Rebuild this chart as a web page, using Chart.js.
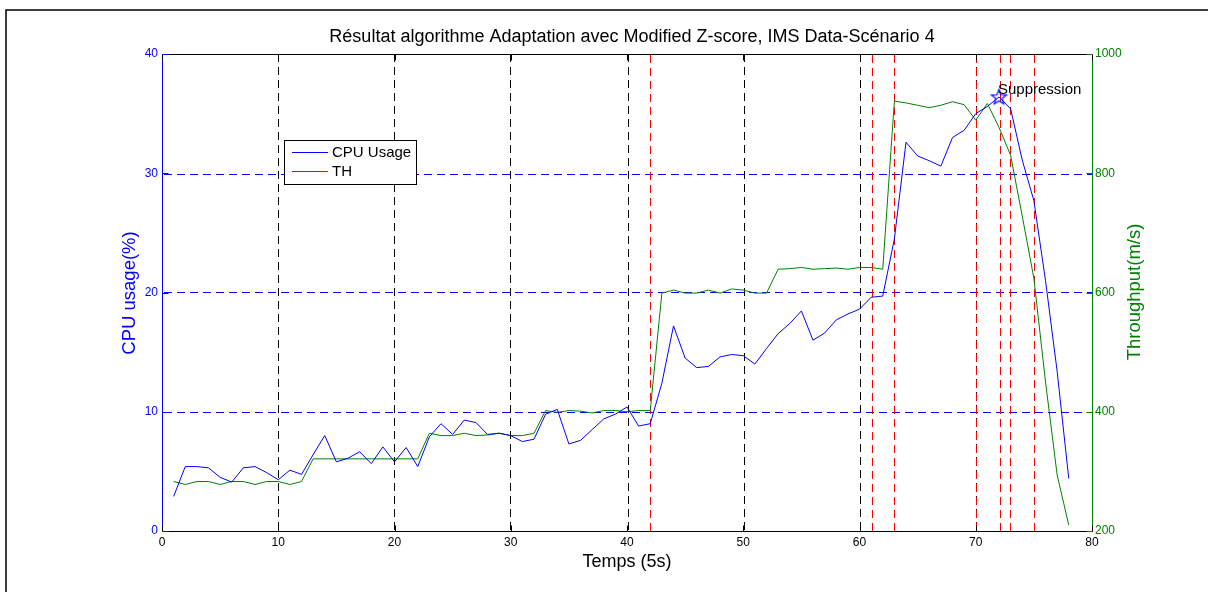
<!DOCTYPE html>
<html lang="fr">
<head>
<meta charset="UTF-8">
<title>Résultat algorithme Adaptation</title>
<script src="https://cdn.jsdelivr.net/npm/chart.js"></script>
<style>
  body { margin: 0; background: #fff; }
  #wrap { width: 1208px; height: 592px; }
</style>
</head>
<body>
<div id="wrap"><canvas id="myChart" width="1208" height="592"></canvas></div>
<script>
// --- data ---
const temps = [];
for (let i = 1; i <= 78; i++) temps.push(i);

const cpuUsage = [
  2.9, 5.4, 5.4, 5.3, 4.5, 4.1, 5.3, 5.4, 4.9, 4.3,
  5.1, 4.75, 6.4, 8.0, 5.8, 6.1, 6.65, 5.65, 7.05, 5.8,
  7.0, 5.4, 7.9, 9.0, 8.1, 9.3, 9.1, 8.1, 8.2, 8.0,
  7.5, 7.7, 9.8, 10.2, 7.3, 7.6, 8.5, 9.4, 9.8, 10.4,
  8.8, 9.0, 12.4, 17.2, 14.5, 13.7, 13.8, 14.6, 14.8, 14.7,
  14.0, 15.3, 16.55, 17.4, 18.45, 16.0, 16.6, 17.7, 18.2, 18.6,
  19.6, 19.7, 24.5, 32.6, 31.45, 31.05, 30.6, 33.0, 33.6, 35.0,
  35.6, 36.4, 35.4, 31.1, 27.7, 21.0, 13.4, 4.4
];

const throughput = [
  283, 278, 283, 283, 278, 283, 283, 278, 283, 283,
  278, 283, 321, 321, 321, 321, 321, 321, 321, 321,
  321, 321, 364, 360, 360, 364, 360, 361, 364, 360,
  360, 364, 402, 399, 402, 401, 398, 402, 402, 400,
  402, 402, 599, 604, 599, 599, 604, 599, 606, 604,
  599, 599, 639, 640, 642, 639, 640, 641, 639, 642,
  642, 639, 921, 918, 914, 910, 914, 920, 915, 889,
  917, 877, 830, 728, 624, 450, 294, 210
];

const suppressionAt = 72;
const seuilLines = [42, 61, 63, 70, 72, 73, 75];   // red dashed markers
const xTicks = [0, 10, 20, 30, 40, 50, 60, 70, 80];
const cpuTicks = [0, 10, 20, 30, 40];
const thTicks = [200, 400, 600, 800, 1000];

const titleText = 'Résultat algorithme Adaptation avec Modified Z-score, IMS Data-Scénario 4';
const FONT = '"Liberation Sans", Arial, Helvetica, sans-serif';
const BLUE = '#0000ff';
const GREEN = '#008000';

const cpuPoints = temps.map((t, i) => ({ x: t, y: cpuUsage[i] }));
const thPoints = temps.map((t, i) => ({ x: t, y: throughput[i] }));
const starPoint = [{ x: suppressionAt, y: cpuUsage[temps.indexOf(suppressionAt)] }];

// five-pointed star outline, like matlab's 'p' marker
const star = document.createElement('canvas');
star.width = 19; star.height = 19;
(function () {
  const c = star.getContext('2d');
  c.strokeStyle = BLUE;
  c.lineWidth = 1.2;
  c.beginPath();
  for (let k = 0; k < 10; k++) {
    const r = k % 2 === 0 ? 8 : 3.4;
    const ang = -Math.PI / 2 + k * Math.PI / 5;
    const px = 9.5 + r * Math.cos(ang), py = 10 + r * Math.sin(ang);
    if (k === 0) c.moveTo(px, py); else c.lineTo(px, py);
  }
  c.closePath();
  c.stroke();
})();

// snap to even pixel so thin coloured dashes keep their colour
const even = v => 2 * Math.round(v / 2);

function vDash(ctx, x, y1, y2, color) {
  ctx.fillStyle = color;
  const xi = even(x);
  for (let y = y1; y < y2; y += 13) ctx.fillRect(xi, y, 1, Math.min(8, y2 - y));
}
function hDash(ctx, y, x1, x2, color) {
  ctx.fillStyle = color;
  const yi = even(y);
  for (let x = x1 + 2; x < x2; x += 13) ctx.fillRect(x, yi, Math.min(8, x2 - x), 1);
}

const matlabLook = {
  id: 'matlabLook',
  beforeDatasetsDraw(chart) {
    const { ctx, chartArea: a, scales } = chart;
    ctx.save();
    xTicks.forEach(v => {
      if (v === 0 || v === 80) return;
      vDash(ctx, scales.x.getPixelForValue(v), a.top, a.bottom, '#000');
    });
    cpuTicks.forEach(v => {
      if (v === 0 || v === 40) return;
      hDash(ctx, scales.y.getPixelForValue(v), a.left, a.right, BLUE);
    });
    seuilLines.forEach(v => {
      vDash(ctx, scales.x.getPixelForValue(v), a.top + 1, a.bottom, '#ff0000');
    });
    ctx.restore();
  },
  afterDraw(chart) {
    const { ctx, chartArea: a, scales } = chart;
    ctx.save();
    // outer figure frame
    ctx.strokeStyle = '#000';
    ctx.lineWidth = 1.5;
    ctx.strokeRect(6, 10, 1400, 800);

    // axes box
    ctx.lineWidth = 1;
    const L = Math.round(a.left) + 0.5, R = Math.round(a.right) + 0.5;
    const T = Math.round(a.top) + 0.5, B = Math.round(a.bottom) + 0.5;
    ctx.strokeStyle = '#000';
    ctx.beginPath(); ctx.moveTo(L, T); ctx.lineTo(R, T); ctx.moveTo(L, B); ctx.lineTo(R, B); ctx.stroke();
    ctx.strokeStyle = BLUE;
    ctx.beginPath(); ctx.moveTo(L, T); ctx.lineTo(L, B); ctx.stroke();
    ctx.strokeStyle = GREEN;
    ctx.beginPath(); ctx.moveTo(R, T); ctx.lineTo(R, B); ctx.stroke();

    // inward tick marks
    ctx.strokeStyle = '#000';
    xTicks.forEach(v => {
      const x = Math.round(scales.x.getPixelForValue(v)) + 0.5;
      ctx.beginPath(); ctx.moveTo(x, B); ctx.lineTo(x, B - 6); ctx.moveTo(x, T); ctx.lineTo(x, T + 6); ctx.stroke();
    });
    ctx.strokeStyle = BLUE;
    cpuTicks.forEach(v => {
      const y = Math.round(scales.y.getPixelForValue(v)) + 0.5;
      ctx.beginPath(); ctx.moveTo(L, y); ctx.lineTo(L + 6, y); ctx.stroke();
    });
    ctx.strokeStyle = GREEN;
    thTicks.forEach(v => {
      const y = Math.round(scales.y1.getPixelForValue(v)) + 0.5;
      ctx.beginPath(); ctx.moveTo(R, y); ctx.lineTo(R - 6, y); ctx.stroke();
    });

    // title and axis labels
    ctx.fillStyle = '#000';
    ctx.font = '18px ' + FONT;
    ctx.textAlign = 'center';
    ctx.textBaseline = 'middle';
    ctx.fillText(titleText, 632, 37);

    ctx.font = '18px ' + FONT;
    ctx.fillText('Temps (5s)', 627, 562);

    ctx.save();
    ctx.translate(130, 293);
    ctx.rotate(-Math.PI / 2);
    ctx.fillStyle = BLUE;
    ctx.font = '18.5px ' + FONT;
    ctx.fillText('CPU usage(%)', 0, 0);
    ctx.restore();

    ctx.save();
    ctx.translate(1135, 292);
    ctx.rotate(-Math.PI / 2);
    ctx.fillStyle = GREEN;
    ctx.font = '18.5px ' + FONT;
    ctx.fillText('Throughput(m/s)', 0, 0);
    ctx.restore();

    // suppression label
    const sx = scales.x.getPixelForValue(suppressionAt);
    const sy = scales.y.getPixelForValue(starPoint[0].y);
    ctx.fillStyle = '#000';
    ctx.font = '15px ' + FONT;
    ctx.textAlign = 'left';
    ctx.textBaseline = 'alphabetic';
    ctx.fillText('Suppression', sx - 1, sy - 3);

    // legend box
    ctx.fillStyle = '#fff';
    ctx.fillRect(284, 140, 133, 45);
    ctx.strokeStyle = '#000';
    ctx.strokeRect(284.5, 140.5, 132, 44);
    ctx.strokeStyle = BLUE;
    ctx.beginPath(); ctx.moveTo(292, 152.5); ctx.lineTo(328, 152.5); ctx.stroke();
    ctx.strokeStyle = GREEN;
    ctx.beginPath(); ctx.moveTo(292, 171.5); ctx.lineTo(328, 171.5); ctx.stroke();
    ctx.fillStyle = '#000';
    ctx.textBaseline = 'middle';
    ctx.fillText('CPU Usage', 332, 153);
    ctx.fillText('TH', 332, 172);
    ctx.restore();
  }
};

new Chart(document.getElementById('myChart'), {
  type: 'line',
  data: {
    datasets: [
      {
        label: 'CPU Usage',
        data: cpuPoints,
        borderColor: BLUE,
        borderWidth: 1,
        pointRadius: 0,
        tension: 0,
        yAxisID: 'y'
      },
      {
        label: 'TH',
        data: thPoints,
        borderColor: GREEN,
        borderWidth: 1,
        pointRadius: 0,
        tension: 0,
        yAxisID: 'y1'
      },
      {
        label: 'Suppression',
        data: starPoint,
        showLine: false,
        pointStyle: star,
        pointRadius: 9,
        yAxisID: 'y'
      }
    ]
  },
  options: {
    responsive: false,
    animation: false,
    devicePixelRatio: 1,
    layout: { padding: { top: 54, left: 0, right: 0, bottom: 0 } },
    plugins: {
      legend: { display: false },
      title: { display: false },
      tooltip: { enabled: false }
    },
    scales: {
      x: {
        type: 'linear',
        min: 0, max: 80,
        afterFit(scale) { scale.height = 61; },
        afterBuildTicks(scale) { scale.ticks = xTicks.map(v => ({ value: v })); },
        grid: { display: false, drawTicks: false },
        border: { display: false },
        ticks: { color: '#000', padding: 4, maxRotation: 0, font: { family: FONT, size: 12 },
                 callback: v => String(v) }
      },
      y: {
        position: 'left',
        min: 0, max: 40,
        afterFit(scale) { scale.width = 162; },
        afterBuildTicks(scale) { scale.ticks = cpuTicks.map(v => ({ value: v })); },
        grid: { display: false, drawTicks: false },
        border: { display: false },
        ticks: { color: BLUE, padding: 4, font: { family: FONT, size: 12 }, callback: v => String(v) }
      },
      y1: {
        position: 'right',
        min: 200, max: 1000,
        afterFit(scale) { scale.width = 116; },
        afterBuildTicks(scale) { scale.ticks = thTicks.map(v => ({ value: v })); },
        grid: { display: false, drawTicks: false },
        border: { display: false },
        ticks: { color: GREEN, padding: 3, font: { family: FONT, size: 12 }, callback: v => String(v) }
      }
    }
  },
  plugins: [matlabLook]
});
</script>
</body>
</html>
